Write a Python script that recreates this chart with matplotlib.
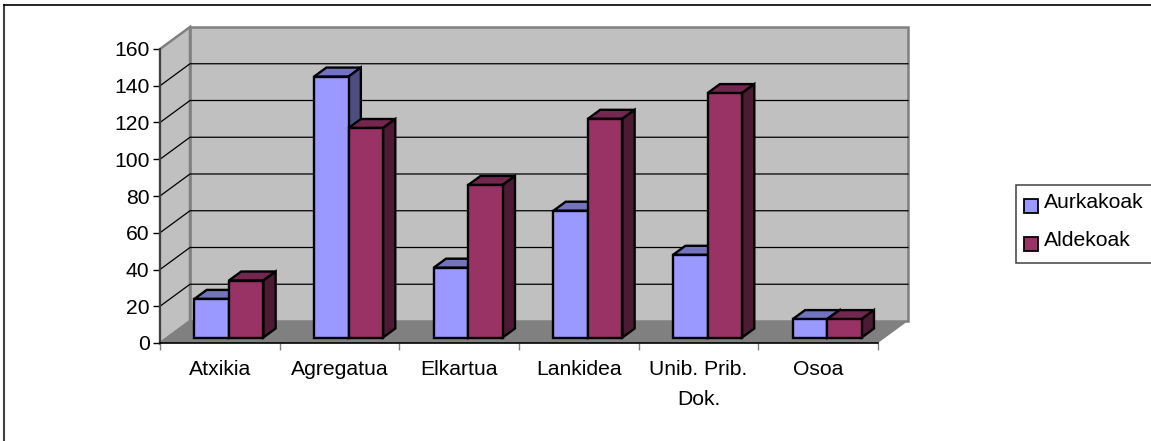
import matplotlib
matplotlib.use('Agg')
from matplotlib import pyplot as plt
from matplotlib.patches import Polygon, Rectangle

plt.rcParams['font.family'] = ['Liberation Sans', 'DejaVu Sans']

categories = ['Atxikia', 'Agregatua', 'Elkartua', 'Lankidea', 'Unib. Prib.\nDok.', 'Osoa']
aurkakoak = [21, 142, 38, 69, 45, 10]
aldekoak = [31, 114, 83, 119, 133, 10]
y_ticks = [0, 20, 40, 60, 80, 100, 120, 140, 160]

W, H = 1151, 441
X0, X1 = 160, 878
Y0, Y1 = 343, 49
FONT = 15.2

# depth of the 3d box, as a data offset
DX = 30 / ((X1 - X0) / len(categories))
DY = 22 / ((Y0 - Y1) / 160)
BAR_W = 0.288
BAR_START = 0.225
D_FRONT = 0.25
D_BACK = 0.66


def proj(x, y, d):
    return (x + d * DX, y + d * DY)


def poly(ax, pts, color, edge='none', lw=0, z=1):
    ax.add_patch(Polygon(pts, closed=True, facecolor=color, edgecolor=edge,
                         linewidth=lw, zorder=z, clip_on=False, joinstyle='miter'))


def draw_bar(ax, x, val, front, top, side, z):
    a, b = x, x + BAR_W
    poly(ax, [proj(a, val, D_FRONT), proj(b, val, D_FRONT), proj(b, val, D_BACK), proj(a, val, D_BACK)],
         top, 'black', 1.7, z)
    poly(ax, [proj(b, 0, D_FRONT), proj(b, val, D_FRONT), proj(b, val, D_BACK), proj(b, 0, D_BACK)],
         side, 'black', 1.7, z)
    poly(ax, [proj(a, 0, D_FRONT), proj(b, 0, D_FRONT), proj(b, val, D_FRONT), proj(a, val, D_FRONT)],
         front, 'black', 1.7, z)


fig = plt.figure(figsize=(W / 100, H / 100), dpi=100)
ax = fig.add_axes([X0 / W, 1 - Y0 / H, (X1 - X0) / W, (Y0 - Y1) / H])
n = len(categories)
ax.set_xlim(0, n)
ax.set_ylim(0, 160)
ax.patch.set_visible(False)

# walls and floor
poly(ax, [proj(0, 0, 1), proj(n, 0, 1), proj(n, 160, 1), proj(0, 160, 1)], '#C0C0C0', '#808080', 1.8, 1)
poly(ax, [proj(0, 0, 0), proj(0, 0, 1), proj(0, 160, 1), proj(0, 160, 0)], '#C0C0C0', '#808080', 1.8, 1)
poly(ax, [proj(0, 0, 0), proj(n, 0, 0), proj(n, 0, 1), proj(0, 0, 1)], '#808080', z=2)

for t in y_ticks[1:-1]:
    xs, ys = zip(proj(0, t, 0), proj(0, t, 1), proj(n, t, 1))
    ax.plot(xs, ys, color='black', lw=0.9, zorder=1.5, clip_on=False)

for i in range(n):
    draw_bar(ax, i + BAR_START, aurkakoak[i], '#9999FF', '#7373BF', '#4D4D80', 3 + i * 0.1)
    draw_bar(ax, i + BAR_START + BAR_W, aldekoak[i], '#993366', '#732650', '#4D1A33', 3.05 + i * 0.1)
    ax.text(i + 0.5, -9.5, categories[i], ha='center', va='top', fontsize=FONT,
            linespacing=1.72, color='black')

ax.set_xticks(range(n + 1))
ax.set_xticklabels([])
ax.set_yticks(y_ticks)
ax.tick_params(axis='y', length=5, width=1, color='black', labelsize=FONT, pad=2.5)
ax.tick_params(axis='x', length=5, width=1, color='#808080')
for s in ['top', 'right']:
    ax.spines[s].set_visible(False)
ax.spines['left'].set_color('#404040')
ax.spines['left'].set_linewidth(1.4)
ax.spines['bottom'].set_color('black')
ax.spines['bottom'].set_linewidth(1.2)
ax.spines['left'].set_zorder(2.5)
ax.spines['bottom'].set_zorder(2.5)

# outer chart frame, open on the bottom and right
fig.add_artist(plt.Line2D([4 / W, 4 / W], [0, 1 - 5 / H], color='#404040', lw=1.5))
fig.add_artist(plt.Line2D([4 / W, 1], [1 - 5 / H, 1 - 5 / H], color='black', lw=1.2))

# legend
fig.add_artist(Rectangle((1016 / W, 1 - 263 / H), 140 / W, 78 / H, facecolor='white',
                         edgecolor='#404040', lw=1.1, transform=fig.transFigure))
for label, color, yc in [('Aurkakoak', '#9999FF', 206), ('Aldekoak', '#993366', 244)]:
    fig.add_artist(Rectangle((1023.5 / W, 1 - (yc + 7) / H), 14 / W, 14 / H, facecolor=color,
                             edgecolor='black', lw=1.3, transform=fig.transFigure))
    fig.text(1044 / W, 1 - (yc - 3) / H, label, fontsize=FONT, va='center', ha='left')

fig.savefig('out.png', dpi=100)
plt.close()
